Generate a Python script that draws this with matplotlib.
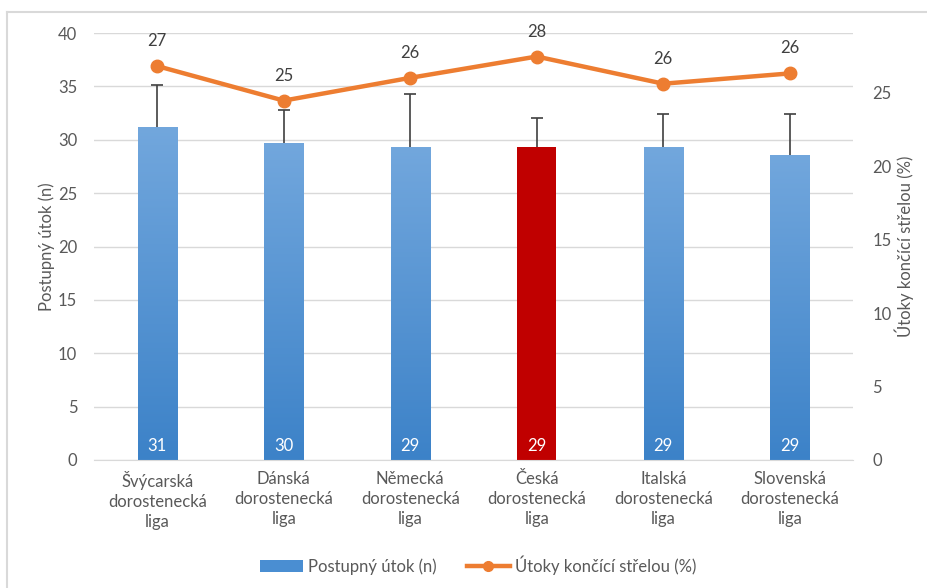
import matplotlib.pyplot as plt
import numpy as np
from matplotlib.colors import LinearSegmentedColormap
from matplotlib.lines import Line2D
from matplotlib.patches import Patch

plt.rcParams['font.family'] = ['Lato', 'DejaVu Sans']

# data
ligy = ["Švýcarská\ndorostenecká\nliga", "Dánská\ndorostenecká\nliga",
        "Německá\ndorostenecká\nliga", "Česká\ndorostenecká\nliga",
        "Italská\ndorostenecká\nliga", "Slovenská\ndorostenecká\nliga"]
utok = [31.2, 29.7, 29.3, 29.3, 29.3, 28.6]
utok_sd = [3.9, 3.1, 5.0, 2.7, 3.1, 3.8]
strela = [26.8, 24.45, 26.0, 27.45, 25.6, 26.3]
utok_popisky = ["31", "30", "29", "29", "29", "29"]
strela_popisky = ["27", "25", "26", "28", "26", "26"]

seda = "#595959"
fs = 12
x = np.arange(len(ligy))

fig = plt.figure(figsize=(9.28, 5.88), dpi=100)
ax = fig.add_axes([94/928, 128/588, 759/928, 427/588])
ax2 = ax.twinx()

cmap = LinearSegmentedColormap.from_list("modra", ["#3C82C8", "#72A7DD"])
grad = np.linspace(0, 1, 256).reshape(-1, 1)
bars = ax.bar(x, utok, width=0.31, color="#5B9BD5", zorder=2)
for i, b in enumerate(bars):
    if i == 3:
        b.set_facecolor("#C00000")
        continue
    b.set_facecolor("none")
    im = ax.imshow(grad, cmap=cmap, origin="lower", aspect="auto",
                   extent=[b.get_x(), b.get_x() + b.get_width(), 0, b.get_height()],
                   zorder=2)
    im.set_clip_path(b)
eb = ax.errorbar(x, utok, yerr=[np.zeros(len(utok)), utok_sd], fmt="none",
                 ecolor="#404040", elinewidth=1.2, capsize=4, capthick=1.2, zorder=3)
eb[1][0].set_visible(False)  # no cap at bar top
for i in range(len(x)):
    ax.text(x[i], 1.3, utok_popisky[i], ha="center", va="center",
            color="white", fontsize=fs, zorder=4)

ax.set_xlim(-0.5, 5.5)
ax.set_ylim(0, 40)
ax.set_yticks(range(0, 41, 5))
ax.set_xticks(x)
ax.set_xticklabels(ligy, fontsize=fs, color=seda, linespacing=1.3,
                   multialignment="center")
ax.yaxis.grid(True, color="#D9D9D9", linewidth=1)
ax.set_axisbelow(True)
ax.tick_params(axis="both", length=0, labelsize=fs, labelcolor=seda)
ax.tick_params(axis="x", pad=8)
ax.tick_params(axis="y", pad=12)
for s in ["top", "left", "right"]:
    ax.spines[s].set_visible(False)
ax.spines["bottom"].set_color("#D9D9D9")
ax.set_ylabel("Postupný útok (n)", fontsize=fs, color=seda, labelpad=2)

ax2.plot(x, strela, color="#ED7D31", linewidth=3.2, marker="o",
         markersize=9, zorder=5)
for i in range(len(x)):
    ax2.annotate(strela_popisky[i], (x[i], strela[i]), xytext=(0, 18),
                 textcoords="offset points", ha="center", va="center",
                 color="#404040", fontsize=fs)
ax2.set_ylim(0, 29.05)
ax2.set_yticks(range(0, 26, 5))
ax2.tick_params(axis="y", length=0, labelsize=fs, labelcolor=seda, pad=14)
for s in ax2.spines.values():
    s.set_visible(False)
ax2.set_ylabel("Útoky končící střelou (%)", fontsize=fs, color=seda, labelpad=2)

handles = [Patch(facecolor="#4A8ED2", edgecolor="none"),
           Line2D([0], [0], color="#ED7D31", linewidth=3.2, marker="o", markersize=7)]
fig.legend(handles, ["Postupný útok (n)", "Útoky končící střelou (%)"],
           loc="center", bbox_to_anchor=(478/928, 1 - 565/588), ncol=2,
           frameon=False, fontsize=fs, labelcolor=seda,
           handlelength=2.6, handletextpad=0.3, columnspacing=1.8)

# outer chart frame (only top and left edge are visible in the crop)
fig.add_artist(Line2D([7/928, 7/928], [0, 1 - 12/588], color="#D9D9D9",
                      linewidth=1.5, transform=fig.transFigure))
fig.add_artist(Line2D([7/928, 1], [1 - 12/588, 1 - 12/588], color="#D9D9D9",
                      linewidth=1.5, transform=fig.transFigure))

plt.savefig("out.png", dpi=100)
